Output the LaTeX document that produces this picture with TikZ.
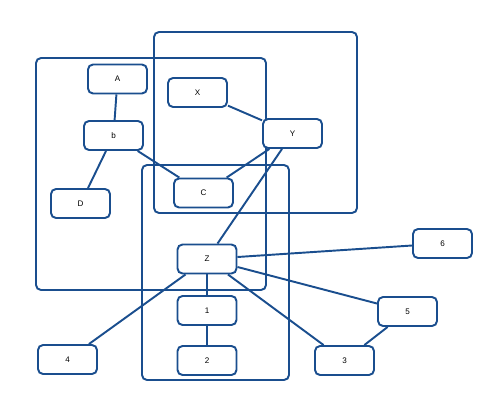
\documentclass[tikz,border=0pt]{standalone}
\usepackage{fontspec}
\setsansfont{Liberation Sans}
\usetikzlibrary{calc}

\definecolor{frameblue}{RGB}{26,78,142}

\tikzset{
  box/.style={draw=frameblue, fill=white, line width=1.1pt, rounded corners=0.1cm,
    minimum width=1.18cm, minimum height=0.58cm, inner sep=0pt,
    font=\sffamily\fontsize{4.6}{5}\selectfont},
  group/.style={draw=frameblue, line width=1.1pt, rounded corners=0.1cm},
  link/.style={draw=frameblue, line width=1.1pt}
}

\begin{document}
\begin{tikzpicture}[x=0.02cm, y=-0.02cm]
  \useasboundingbox (0,0) rectangle (499,402);

  % Groups
  \draw[group] (36,58) rectangle (266,290);
  \draw[group] (154,32) rectangle (357,213);
  \draw[group] (142,165) rectangle (289,380);

  % Nodes
  \node[box] (A) at (117.5,79) {A};
  \node[box] (X) at (197.5,92.5) {X};
  \node[box] (b) at (113.5,135.5) {b};
  \node[box] (Y) at (292.5,133.5) {Y};
  \node[box] (D) at (80.5,203.5) {D};
  \node[box] (C) at (203.5,193) {C};
  \node[box] (Z) at (207,259) {Z};
  \node[box] (n6) at (442.5,243.5) {6};
  \node[box] (n5) at (407.5,311.5) {5};
  \node[box] (n1) at (207,310.5) {1};
  \node[box] (n4) at (67.5,359.5) {4};
  \node[box] (n2) at (207,360.5) {2};
  \node[box] (n3) at (344.5,360.5) {3};

  % Links
  \draw[link] (A) -- (b);
  \draw[link] (b) -- (D);
  \draw[link] (b) -- (C);
  \draw[link] (X) -- (Y);
  \draw[link] (Y) -- (C);
  \draw[link] (Y) -- (Z);
  \draw[link] (Z) -- (n6);
  \draw[link] (Z) -- (n5);
  \draw[link] (Z) -- (n1);
  \draw[link] (Z) -- (n4);
  \draw[link] (Z) -- (n3);
  \draw[link] (n1) -- (n2);
  \draw[link] (n5) -- (n3);
\end{tikzpicture}
\end{document}
